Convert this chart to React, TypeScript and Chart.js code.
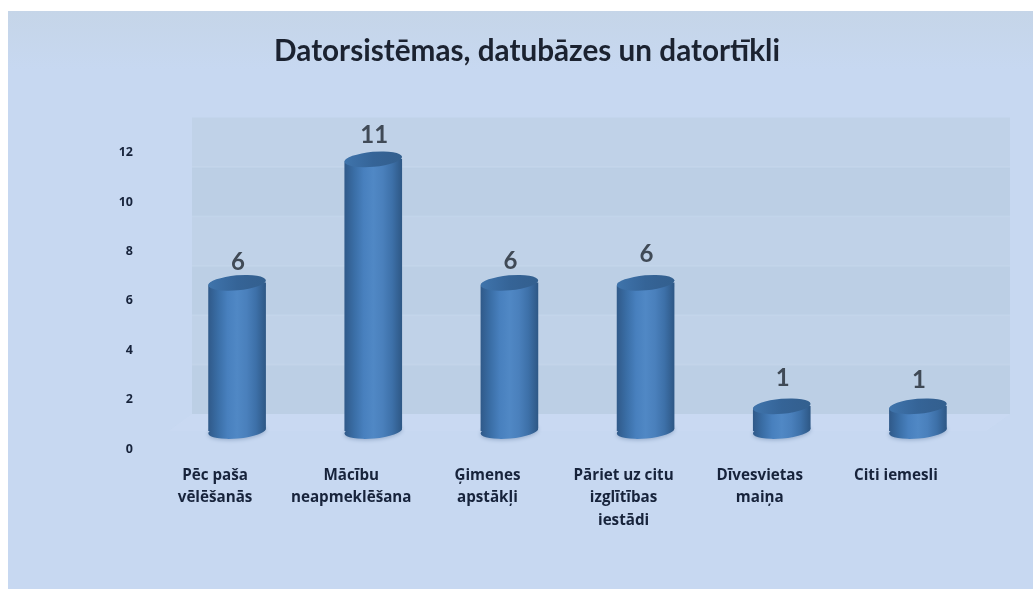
import React, { useEffect, useRef } from "react";
import { Chart, registerables } from "chart.js";

Chart.register(...registerables);

const titleText = "Datorsistēmas, datubāzes un datortīkli";
const categories: string[][] = [
  ["Pēc paša", "vēlēšanās"],
  ["Mācību", "neapmeklēšana"],
  ["Ģimenes", "apstākļi"],
  ["Pāriet uz citu", "izglītības", "iestādi"],
  ["Dīvesvietas", "maiņa"],
  ["Citi iemesli"],
];
const values = [6, 11, 6, 6, 1, 1];
const labelLift = [21, 24, 22, 29, 28, 26];

const BAR_W = 57;
const WALL_DX = 23;
const WALL_DY = 17;

function cylinderGradient(c: CanvasRenderingContext2D, x: number, stops: string[]) {
  const g = c.createLinearGradient(x - BAR_W / 2, 0, x + BAR_W / 2, 0);
  stops.forEach((s, i) => g.addColorStop(i / (stops.length - 1), s));
  return g;
}
const bodyStops = ["#305a8a", "#3a6ea6", "#4880be", "#5088c5", "#4a80bc", "#3d70a8", "#2e5886"];
const capStops = ["#3f74ab", "#3a6ca2", "#356497", "#346192", "#33608f"];

const ellipse = (c: CanvasRenderingContext2D, x: number, y: number) => {
  c.beginPath();
  c.ellipse(x, y, BAR_W / 2 + 0.4, 7.5, (-5 * Math.PI) / 180, 0, Math.PI * 2);
  c.fill();
};

const decor = {
  id: "decor",
  afterLayout(chart: any) {
    if (chart.titleBlock) {
      chart.titleBlock.left = 21;
      chart.titleBlock.right = 1033;
    }
  },
  beforeDraw(chart: any) {
    const c: CanvasRenderingContext2D = chart.ctx;
    c.save();
    const bg = c.createLinearGradient(0, 11, 0, 70);
    bg.addColorStop(0, "#c5d5e8");
    bg.addColorStop(1, "#c7d8f1");
    c.fillStyle = bg;
    c.fillRect(8, 11, chart.width - 8, chart.height - 11);

    const y = chart.scales.y;
    const { left, right, bottom } = chart.chartArea;
    const wl = left + WALL_DX;
    const wr = right + WALL_DX + 1;
    const ticks = y.ticks.map((t: any) => y.getPixelForValue(t.value) - WALL_DY);

    // floor
    c.fillStyle = "rgba(205,222,244,0.35)";
    c.beginPath();
    c.moveTo(wl, ticks[0]);
    c.lineTo(wr, ticks[0]);
    c.lineTo(right, bottom);
    c.lineTo(left, bottom);
    c.closePath();
    c.fill();

    // back wall with alternate bands
    c.fillStyle = "#bccfe5";
    c.fillRect(wl, ticks[ticks.length - 1], wr - wl, ticks[0] - ticks[ticks.length - 1]);
    for (let i = 0; i < ticks.length - 1; i++) {
      if (i % 2 === 1) {
        c.fillStyle = "rgba(210,225,245,0.22)";
        c.fillRect(wl, ticks[i + 1], wr - wl, ticks[i] - ticks[i + 1]);
      }
      if (i > 0) {
        c.fillStyle = "rgba(205,222,242,0.3)";
        c.fillRect(wl, ticks[i] - 1, wr - wl, 2);
      }
    }
    c.restore();
  },
  beforeDatasetsDraw(chart: any) {
    const c: CanvasRenderingContext2D = chart.ctx;
    const meta = chart.getDatasetMeta(0);
    c.save();
    meta.data.forEach((bar: any) => {
      c.shadowColor = "rgba(45,80,125,0.35)";
      c.shadowBlur = 4;
      c.shadowOffsetY = 1;
      c.fillStyle = cylinderGradient(c, bar.x, bodyStops);
      ellipse(c, bar.x, bar.base);
    });
    c.restore();
  },
  afterDatasetsDraw(chart: any) {
    const c: CanvasRenderingContext2D = chart.ctx;
    const meta = chart.getDatasetMeta(0);
    c.save();
    meta.data.forEach((bar: any, i: number) => {
      c.fillStyle = cylinderGradient(c, bar.x, capStops);
      ellipse(c, bar.x, bar.y);
      c.fillStyle = "#404a56";
      c.font = "bold 24px Lato";
      c.textAlign = "center";
      c.textBaseline = "middle";
      c.fillText(String(values[i]), bar.x + 1, bar.y - labelLift[i]);
    });
    c.restore();
  },
};

export default function App() {
  const ref = useRef<HTMLCanvasElement>(null);
  useEffect(() => {
    document.body.style.margin = "0";
    document.body.style.background = "#ffffff";
    const chart = new Chart(ref.current!, {
      type: "bar",
      data: {
        labels: categories,
        datasets: [
          {
            data: values,
            barThickness: BAR_W,
            borderWidth: 0,
            borderSkipped: false,
            borderRadius: { topLeft: 4, topRight: 0, bottomLeft: 0, bottomRight: 4 },
            backgroundColor: (ctx: any) => {
              const x = ctx.chart.scales.x?.getPixelForValue(ctx.dataIndex ?? 0);
              if (!Number.isFinite(x)) return "#4a7fba";
              return cylinderGradient(ctx.chart.ctx, x, bodyStops);
            },
          },
        ],
      },
      options: {
        responsive: false,
        animation: false,
        layout: { padding: { left: 0, top: 0, right: 47, bottom: 0 } },
        plugins: {
          legend: { display: false },
          tooltip: { enabled: false },
          title: {
            display: true,
            text: titleText,
            color: "#1b2230",
            font: { family: "Lato", size: 29.7, weight: "bold", lineHeight: 1.2 },
            padding: { top: 34, bottom: 65 },
          },
        },
        scales: {
          x: {
            grid: { display: false, drawTicks: false },
            border: { display: false },
            afterFit: (s: any) => {
              s.height = 158;
            },
            ticks: {
              autoSkip: false,
              maxRotation: 0,
              minRotation: 0,
              padding: 33,
              labelOffset: -22,
              color: "#17233b",
              font: { family: "Open Sans", size: 15.2, weight: "bold", lineHeight: 1.48 },
            },
          },
          y: {
            min: 0,
            max: 12,
            grid: { display: false, drawTicks: false },
            border: { display: false },
            afterFit: (s: any) => {
              s.width = 169;
            },
            ticks: {
              stepSize: 2,
              padding: 36,
              labelOffset: 18,
              color: "#17233b",
              font: { family: "Open Sans", size: 12.5, weight: "bold" },
            },
          },
        },
      },
      plugins: [decor],
    } as any);
    return () => chart.destroy();
  }, []);
  return <canvas ref={ref} width={1033} height={589} style={{ display: "block" }} />;
}
